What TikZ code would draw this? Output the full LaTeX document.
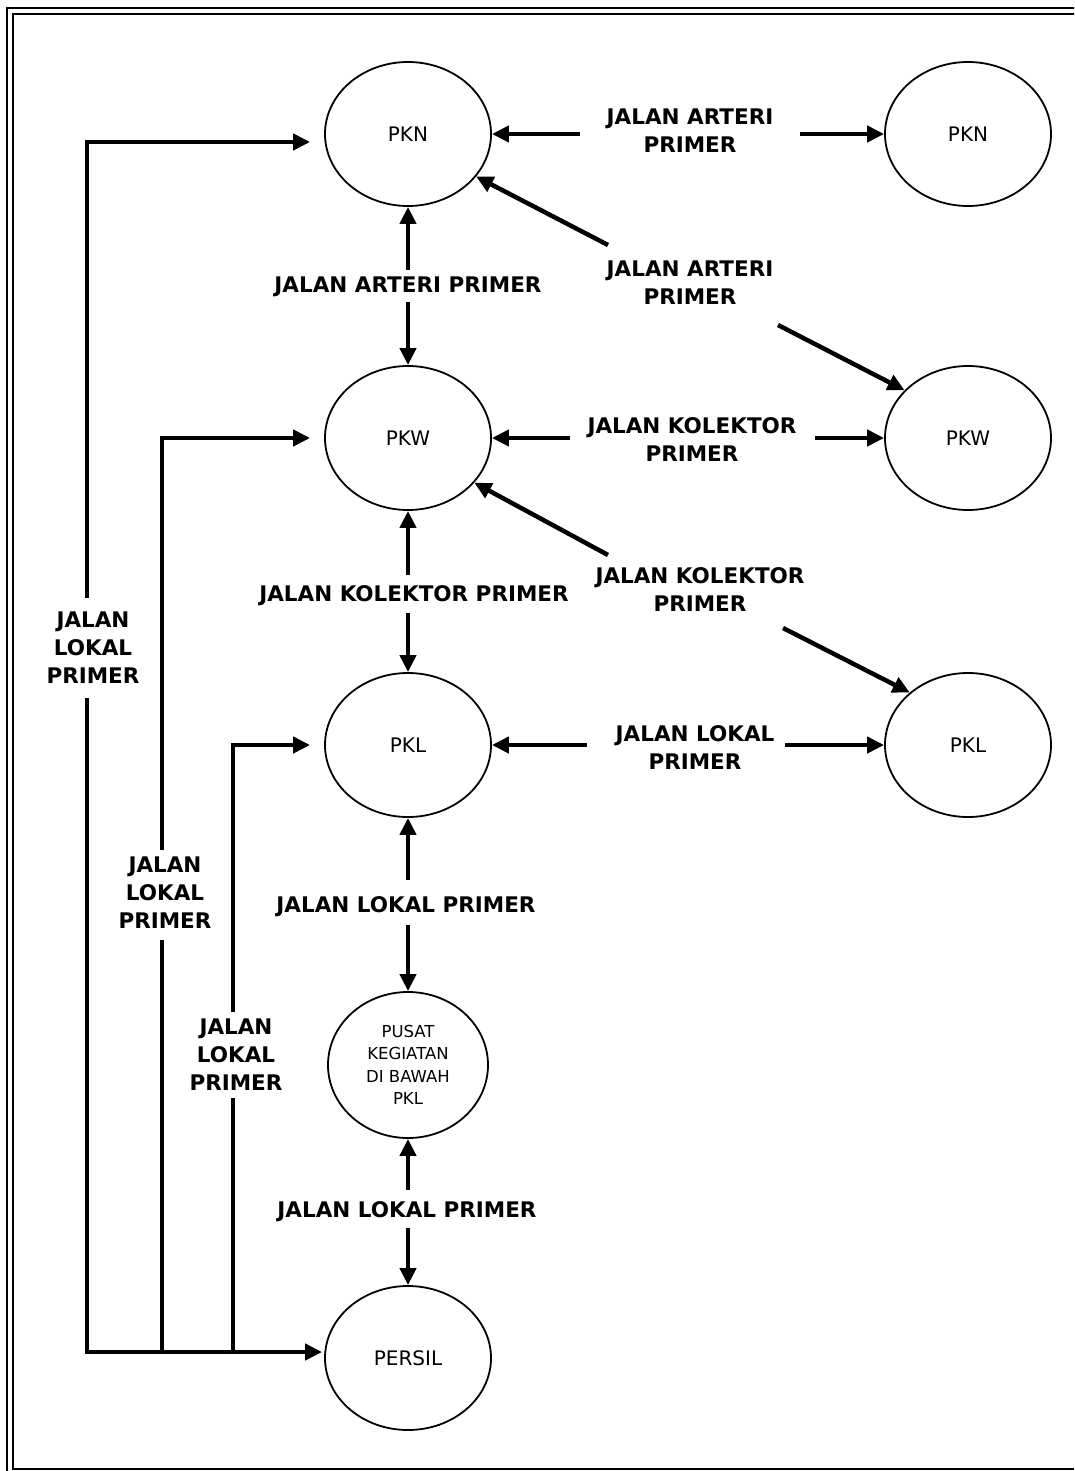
\documentclass[tikz,border=0pt]{standalone}
\usepackage{fontspec}
\setmainfont{DejaVu Sans}
\usetikzlibrary{arrows.meta,shapes.geometric}
\begin{document}
\begin{tikzpicture}[x=1pt,y=-1pt,
  place/.style={ellipse,draw,line width=1.8pt,inner sep=0pt,minimum width=166pt,minimum height=144pt,font=\fontsize{20}{22}\selectfont},
  small/.style={place,minimum width=160pt,minimum height=146pt,align=center,font=\fontsize{16.5}{22.5}\selectfont},
  lab/.style={font=\bfseries\fontsize{21.5}{28}\selectfont,align=center,inner sep=0pt},
  arr/.style={line width=4.5pt,-{Triangle[length=17pt,width=16pt]}},
  conn/.style={line width=4.5pt},
]
\clip (0,0) rectangle (1074,1471);
\fill[white] (0,0) rectangle (1074,1471);
\draw[line width=2pt] (7,8) rectangle (1120,1480);
\draw[line width=2.5pt] (13,14) rectangle (1110,1469);

% places
\node[place] (pknL) at (408,134) {PKN};
\node[place] (pknR) at (968,134) {PKN};
\node[place] (pkwL) at (408,438) {PKW};
\node[place] (pkwR) at (968,438) {PKW};
\node[place] (pklL) at (408,745) {PKL};
\node[place] (pklR) at (968,745) {PKL};
\node[small] (pusat) at (408,1065) {PUSAT\\KEGIATAN\\DI BAWAH\\PKL};
\node[place] (persil) at (408,1358) {PERSIL};

% labels
\node[lab] (t1) at (690,131) {JALAN ARTERI\\PRIMER};
\node[lab] (t2) at (690,283) {JALAN ARTERI\\PRIMER};
\node[lab] (t3) at (408,287) {JALAN ARTERI PRIMER};
\node[lab] (t4) at (692,440) {JALAN KOLEKTOR\\PRIMER};
\node[lab] (t5) at (414,596) {JALAN KOLEKTOR PRIMER};
\node[lab] (t6) at (700,590) {JALAN KOLEKTOR\\PRIMER};
\node[lab] (t7) at (695,748) {JALAN LOKAL\\PRIMER};
\node[lab] (t8) at (406,907) {JALAN LOKAL PRIMER};
\node[lab] (t9) at (407,1212) {JALAN LOKAL PRIMER};
\node[lab] (L1) at (93,648) {JALAN\\LOKAL\\PRIMER};
\node[lab] (L2) at (165,893) {JALAN\\LOKAL\\PRIMER};
\node[lab] (L3) at (236,1055) {JALAN\\LOKAL\\PRIMER};

% PKN row
\coordinate (a1) at (580,134); \draw[arr] (a1) -- (pknL);
\coordinate (a2) at (800,134); \draw[arr] (a2) -- (pknR);
\coordinate (a3) at (608,245); \draw[arr] (a3) -- (pknL.-32);
\coordinate (a4) at (778,325); \draw[arr] (a4) -- (pkwR.143);
\coordinate (a5) at (408,270); \draw[arr] (a5) -- (pknL);
\coordinate (a6) at (408,302); \draw[arr] (a6) -- (pkwL);
% PKW row
\coordinate (a7) at (570,438); \draw[arr] (a7) -- (pkwL);
\coordinate (a8) at (815,438); \draw[arr] (a8) -- (pkwR);
\coordinate (a9) at (608,555); \draw[arr] (a9) -- (pkwL.-34);
\coordinate (a10) at (783,628); \draw[arr] (a10) -- (pklR.138);
\coordinate (a11) at (408,575); \draw[arr] (a11) -- (pkwL);
\coordinate (a12) at (408,613); \draw[arr] (a12) -- (pklL);
% PKL row
\coordinate (a13) at (587,745); \draw[arr] (a13) -- (pklL);
\coordinate (a14) at (785,745); \draw[arr] (a14) -- (pklR);
\coordinate (a15) at (408,880); \draw[arr] (a15) -- (pklL);
\coordinate (a16) at (408,925); \draw[arr] (a16) -- (pusat);
\coordinate (a17) at (408,1190); \draw[arr] (a17) -- (pusat);
\coordinate (a18) at (408,1228); \draw[arr] (a18) -- (persil);

% left feeder lines
\coordinate (pin) at ([xshift=-2pt,yshift=6pt]persil.west);
\coordinate (b1) at (87,598); \draw[arr] (b1) |- ([xshift=-14pt,yshift=-8pt]pknL.west);
\coordinate (b1b) at (87,698); \draw[arr] (b1b) |- (pin);
\coordinate (b2) at (162,850); \draw[arr] (b2) |- ([xshift=-14pt]pkwL.west);
\coordinate (b2b) at (162,940); \draw[conn] (b2b) -- (b2b |- pin);
\coordinate (b3) at (233,1012); \draw[arr] (b3) |- ([xshift=-14pt]pklL.west);
\coordinate (b3b) at (233,1098); \draw[conn] (b3b) -- (b3b |- pin);
\end{tikzpicture}
\end{document}
